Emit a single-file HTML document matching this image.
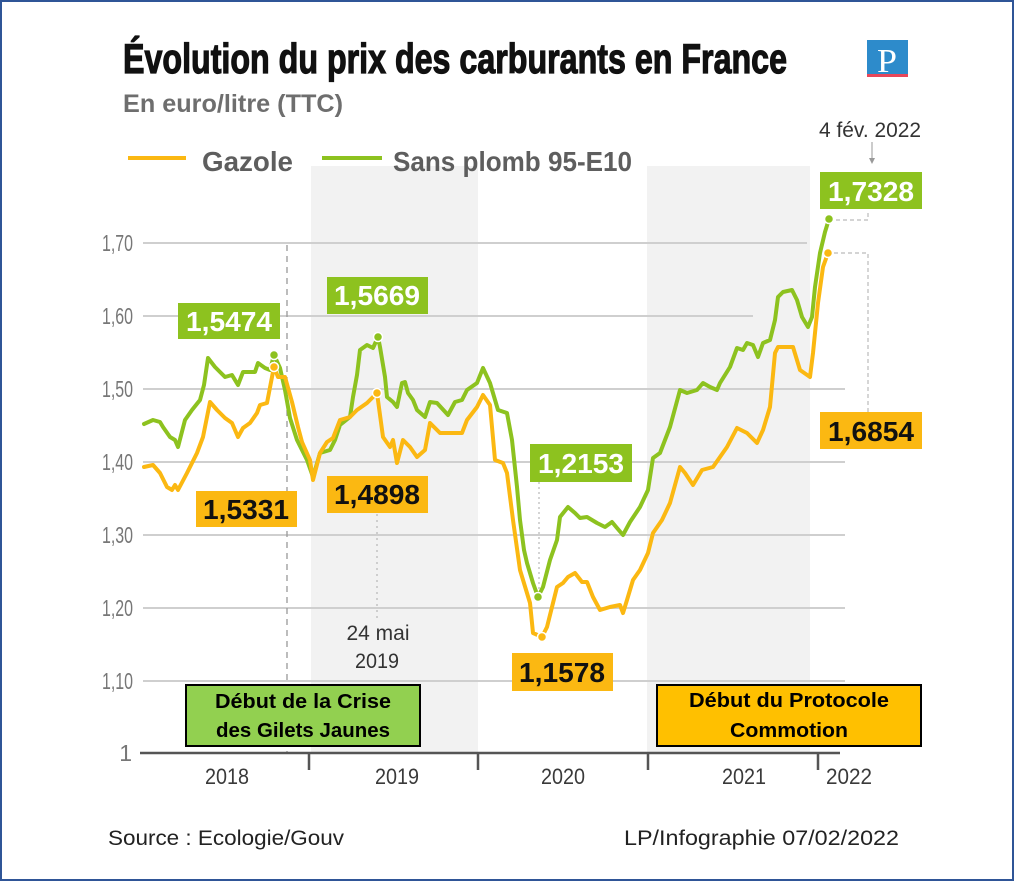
<!DOCTYPE html>
<html><head><meta charset="utf-8"><style>
html,body{margin:0;padding:0;background:#fff;}
svg{display:block;}
</style></head><body>
<svg width="1014" height="881" viewBox="0 0 1014 881" xmlns="http://www.w3.org/2000/svg" font-family="'Liberation Sans', sans-serif">
<rect x="1" y="1" width="1012" height="879" fill="#fff" stroke="#2F5597" stroke-width="2"/>
<!-- bands -->
<rect x="311" y="166" width="167" height="587" fill="#f2f2f2"/>
<rect x="647" y="166" width="163" height="587" fill="#f2f2f2"/>
<!-- gridlines -->
<g stroke="#cfcfcf" stroke-width="2">
<line x1="143" y1="243" x2="807" y2="243"/>
<line x1="143" y1="316" x2="753" y2="316"/>
<line x1="143" y1="389" x2="845" y2="389"/>
<line x1="143" y1="462" x2="845" y2="462"/>
<line x1="143" y1="535" x2="845" y2="535"/>
<line x1="143" y1="608" x2="845" y2="608"/>
<line x1="143" y1="681" x2="845" y2="681"/>
</g>
<!-- dashed verticals -->
<line x1="287" y1="245" x2="287" y2="753" stroke="#999" stroke-width="1.3" stroke-dasharray="6,5"/>
<line x1="377" y1="514" x2="377" y2="618" stroke="#aaa" stroke-width="1" stroke-dasharray="2,4"/>
<line x1="539" y1="482" x2="539" y2="594" stroke="#aaa" stroke-width="1" stroke-dasharray="2,3"/>
<path d="M836 220 H868 V210" fill="none" stroke="#bbb" stroke-width="1.2" stroke-dasharray="4,3"/>
<path d="M834 253 H868 V412" fill="none" stroke="#bbb" stroke-width="1.2" stroke-dasharray="4,3"/>
<!-- axis -->
<g stroke="#555" stroke-width="2.5">
<line x1="140" y1="753" x2="840" y2="753"/>
<line x1="309" y1="753" x2="309" y2="770"/>
<line x1="478" y1="753" x2="478" y2="770"/>
<line x1="648" y1="753" x2="648" y2="770"/>
<line x1="818" y1="753" x2="818" y2="770"/>
</g>
<!-- y labels -->
<g fill="#777" font-size="23" text-anchor="end">
<text x="133" y="251" textLength="31" lengthAdjust="spacingAndGlyphs">1,70</text>
<text x="133" y="324" textLength="31" lengthAdjust="spacingAndGlyphs">1,60</text>
<text x="133" y="397" textLength="31" lengthAdjust="spacingAndGlyphs">1,50</text>
<text x="133" y="470" textLength="31" lengthAdjust="spacingAndGlyphs">1,40</text>
<text x="133" y="543" textLength="31" lengthAdjust="spacingAndGlyphs">1,30</text>
<text x="133" y="616" textLength="31" lengthAdjust="spacingAndGlyphs">1,20</text>
<text x="133" y="689" textLength="31" lengthAdjust="spacingAndGlyphs">1,10</text>
<text x="132" y="761">1</text>
</g>
<!-- year labels -->
<g fill="#3a3a3a" font-size="22" text-anchor="middle">
<text x="227" y="784" textLength="44" lengthAdjust="spacingAndGlyphs">2018</text>
<text x="397" y="784" textLength="44" lengthAdjust="spacingAndGlyphs">2019</text>
<text x="563" y="784" textLength="44" lengthAdjust="spacingAndGlyphs">2020</text>
<text x="744" y="784" textLength="44" lengthAdjust="spacingAndGlyphs">2021</text>
<text x="849" y="784" textLength="46" lengthAdjust="spacingAndGlyphs">2022</text>
</g>
<!-- series -->
<polyline fill="none" stroke="#8DC21F" stroke-width="4" stroke-linejoin="round" stroke-linecap="round" points="144,424 153,420 160,422 163,427 170,437 175,440 178,447 185,420 192,410 200,400 204,385 208,358 215,367 225,377 232,375 238,385 243,372 255,372 258,363 265,368 270,370 274,355 280,368 285,390 290,418 297,440 302,450 307,460 313,477 320,453 330,450 335,440 340,425 350,417 353,397 357,375 360,350 367,345 373,348 378,337 380,347 385,377 387,397 393,402 397,407 402,383 405,382 408,393 413,400 417,410 425,417 430,402 437,403 448,415 455,402 462,400 467,390 477,383 483,368 490,383 498,410 507,413 512,440 517,487 520,520 524,550 527,563 533,583 538,597 543,587 550,560 557,540 560,517 568,507 575,513 580,518 587,517 597,523 605,527 612,522 617,528 623,535 630,522 640,507 648,490 653,458 660,453 670,427 680,390 687,393 697,390 703,383 710,387 717,390 720,383 730,367 737,348 743,350 747,343 753,345 758,357 763,343 770,340 775,320 778,297 783,292 792,290 797,300 802,317 808,327 812,317 815,287 820,253 825,232 829,219"/>
<polyline fill="none" stroke="#FBB812" stroke-width="4" stroke-linejoin="round" stroke-linecap="round" points="144,467 153,465 160,473 167,487 172,490 175,485 178,490 187,473 197,453 203,437 210,402 217,410 225,418 232,423 238,437 243,428 250,423 257,413 260,405 267,403 272,377 274,367 278,377 285,377 292,402 298,427 302,442 310,460 313,480 320,453 327,442 333,438 340,420 350,417 357,410 367,403 377,393 383,437 390,447 393,440 397,463 403,440 410,447 417,457 425,450 430,423 440,433 453,433 462,433 467,420 477,407 483,395 490,405 495,460 503,463 507,473 513,520 520,570 530,603 533,633 542,637 547,627 557,587 563,583 568,577 575,573 582,582 587,582 593,597 600,610 610,607 620,605 623,613 627,600 633,580 640,570 648,553 653,533 662,520 670,503 680,467 685,473 693,485 702,470 713,467 720,457 727,447 737,428 747,433 757,443 763,430 770,407 775,353 778,347 787,347 793,347 800,370 810,377 813,353 818,303 823,267 828,253"/>
<!-- markers -->
<g stroke="#fff" stroke-width="1.5">
<circle cx="274" cy="355" r="4.5" fill="#8DC21F"/>
<circle cx="274" cy="367" r="4.5" fill="#FBB812"/>
<circle cx="378" cy="337" r="4.5" fill="#8DC21F"/>
<circle cx="377" cy="393" r="4.5" fill="#FBB812"/>
<circle cx="538" cy="597" r="4.5" fill="#8DC21F"/>
<circle cx="542" cy="637" r="4.5" fill="#FBB812"/>
<circle cx="829" cy="219" r="4.5" fill="#8DC21F"/>
<circle cx="828" cy="253" r="4.5" fill="#FBB812"/>
</g>
<!-- value labels -->
<g font-size="28" font-weight="bold" text-anchor="middle">
<rect x="178" y="303" width="102" height="36" fill="#8DC21F"/>
<text x="229" y="331" fill="#fff" textLength="86" lengthAdjust="spacingAndGlyphs">1,5474</text>
<rect x="327" y="277" width="101" height="37" fill="#8DC21F"/>
<text x="377" y="305" fill="#fff" textLength="86" lengthAdjust="spacingAndGlyphs">1,5669</text>
<rect x="196" y="491" width="101" height="36" fill="#FBB812"/>
<text x="246" y="519" fill="#111" textLength="86" lengthAdjust="spacingAndGlyphs">1,5331</text>
<rect x="327" y="476" width="101" height="37" fill="#FBB812"/>
<text x="377" y="504" fill="#111" textLength="86" lengthAdjust="spacingAndGlyphs">1,4898</text>
<rect x="530" y="444" width="102" height="38" fill="#8DC21F"/>
<text x="581" y="473" fill="#fff" textLength="86" lengthAdjust="spacingAndGlyphs">1,2153</text>
<rect x="512" y="653" width="101" height="38" fill="#FBB812"/>
<text x="562" y="682" fill="#111" textLength="86" lengthAdjust="spacingAndGlyphs">1,1578</text>
<rect x="820" y="412" width="102" height="37" fill="#FBB812"/>
<text x="871" y="441" fill="#111" textLength="86" lengthAdjust="spacingAndGlyphs">1,6854</text>
<rect x="820" y="172" width="102" height="37" fill="#8DC21F"/>
<text x="871" y="201" fill="#fff" textLength="86" lengthAdjust="spacingAndGlyphs">1,7328</text>
</g>
<!-- annotations -->
<text x="870" y="137" font-size="21" fill="#333" text-anchor="middle" textLength="102" lengthAdjust="spacingAndGlyphs">4 fév. 2022</text>
<line x1="872" y1="142" x2="872" y2="162" stroke="#999" stroke-width="1"/>
<path d="M869 158 L872 164 L875 158 Z" fill="#999"/>
<text x="378" y="640" font-size="21" fill="#333" text-anchor="middle" textLength="63" lengthAdjust="spacingAndGlyphs">24 mai</text>
<text x="377" y="668" font-size="21" fill="#333" text-anchor="middle" textLength="44" lengthAdjust="spacingAndGlyphs">2019</text>
<!-- title -->
<text x="123" y="73" font-size="42" font-weight="bold" fill="#111" stroke="#111" stroke-width="1.2" textLength="664" lengthAdjust="spacingAndGlyphs">Évolution du prix des carburants en France</text>
<text x="123" y="112" font-size="25" font-weight="bold" fill="#6e6e6e" textLength="220" lengthAdjust="spacingAndGlyphs">En euro/litre (TTC)</text>
<!-- legend -->
<line x1="128" y1="158" x2="186" y2="158" stroke="#FBB812" stroke-width="4"/>
<text x="202" y="171" font-size="28" font-weight="bold" fill="#5e5e5e" textLength="91" lengthAdjust="spacingAndGlyphs">Gazole</text>
<line x1="322" y1="158" x2="382" y2="158" stroke="#8DC21F" stroke-width="4"/>
<text x="393" y="171" font-size="28" font-weight="bold" fill="#5e5e5e" textLength="239" lengthAdjust="spacingAndGlyphs">Sans plomb 95-E10</text>
<!-- logo -->
<rect x="867" y="40" width="41" height="35" fill="#2D8BCB"/>
<rect x="867" y="74" width="41" height="3" fill="#E8475A"/>
<text x="887" y="72" font-family="'Liberation Serif', serif" font-size="34" fill="#fff" text-anchor="middle" textLength="20" lengthAdjust="spacingAndGlyphs">P</text>
<!-- boxes -->
<rect x="186" y="685" width="234" height="61" fill="#92D050" stroke="#000" stroke-width="2"/>
<g font-size="20" font-weight="bold" fill="#000" text-anchor="middle">
<text x="303" y="708" textLength="176" lengthAdjust="spacingAndGlyphs">Début de la Crise</text>
<text x="303" y="737" textLength="174" lengthAdjust="spacingAndGlyphs">des Gilets Jaunes</text>
</g>
<rect x="657" y="685" width="264" height="61" fill="#FFC000" stroke="#000" stroke-width="2"/>
<g font-size="20" font-weight="bold" fill="#000" text-anchor="middle">
<text x="789" y="707" textLength="200" lengthAdjust="spacingAndGlyphs">Début du Protocole</text>
<text x="789" y="737" textLength="118" lengthAdjust="spacingAndGlyphs">Commotion</text>
</g>
<!-- source -->
<text x="108" y="845" font-size="21" fill="#222" textLength="236" lengthAdjust="spacingAndGlyphs">Source : Ecologie/Gouv</text>
<text x="624" y="845" font-size="21" fill="#222" textLength="275" lengthAdjust="spacingAndGlyphs">LP/Infographie 07/02/2022</text>
</svg>
</body></html>
